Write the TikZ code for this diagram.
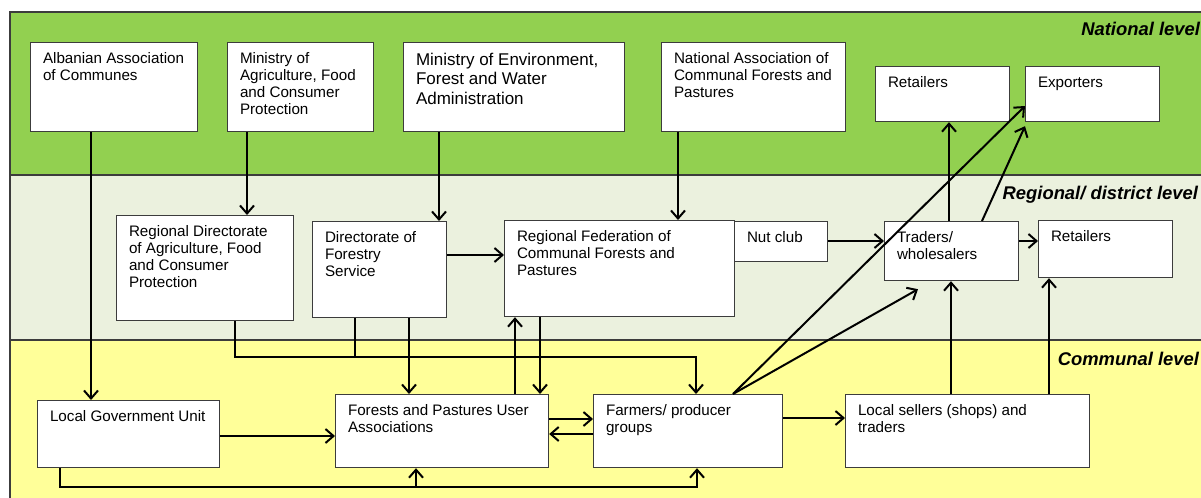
\documentclass[tikz,border=0pt]{standalone}
\usepackage{fontspec}
\setmainfont{Liberation Sans}
\usepackage{tikz}
\usetikzlibrary{arrows.meta}

\definecolor{natbg}{RGB}{146,208,80}
\definecolor{regbg}{RGB}{235,241,222}
\definecolor{combg}{RGB}{255,255,153}
\definecolor{boxline}{RGB}{60,60,60}

\tikzset{
box/.style 2 args={draw=boxline, line width=0.6pt, fill=white, anchor=north west,
inner sep=0pt, minimum width=#1*0.5pt, minimum height=#2*0.5pt},
txt/.style={anchor=north west, align=left, inner sep=0pt,
font=\fontsize{7.6}{8.5}\selectfont, xshift=6.3pt, yshift=-5.2pt},
arr/.style={line width=1pt, -{Straight Barb[length=4pt,width=7pt]}},
lvl/.style={anchor=base east, font=\fontsize{9.2}{11}\selectfont\bfseries\itshape}
}

\begin{document}
\begin{tikzpicture}[x=0.5pt,y=-0.5pt]
\useasboundingbox (0,0) rectangle (1201,498);
\clip (0,0) rectangle (1201,498);

% levels
\fill[natbg] (10,12) rectangle (1210,175);
\fill[regbg] (10,175) rectangle (1210,340);
\fill[combg] (10,340) rectangle (1210,510);
\draw[line width=0.6pt, boxline] (10,12) rectangle (1210,175)
(10,175) rectangle (1210,340) (10,340) rectangle (1210,510);
\node[lvl] (natl) at (1207,35) {National level};
\node[lvl] (regl) at (1205,199) {Regional/ district level};
\node[lvl] (coml) at (1206,365) {Communal level};

% national level
\node[box={167}{89}, label={[txt]north west:{Albanian Association\\of Communes}}] (aac) at (30,42) {};
\node[box={146}{89}, label={[txt]north west:{Ministry of\\Agriculture, Food\\and Consumer\\Protection}}] (mafc) at (227,42) {};
\node[box={221}{89}, label={[txt, font=\fontsize{8.5}{9.8}\selectfont]north west:{Ministry of Environment,\\Forest and Water\\Administration}}] (mefw) at (403,42) {};
\node[box={184}{89}, label={[txt]north west:{National Association of\\Communal Forests and\\Pastures}}] (nacf) at (661,42) {};
\node[box={134}{55}, label={[txt]north west:{Retailers}}] (retn) at (875,66) {};
\node[box={134}{55}, label={[txt]north west:{Exporters}}] (exp) at (1025,66) {};

% regional level
\node[box={177}{105}, label={[txt]north west:{Regional Directorate\\of Agriculture, Food\\and Consumer\\Protection}}] (rdaf) at (116,215) {};
\node[box={134}{96}, label={[txt]north west:{Directorate of\\Forestry\\Service}}] (dfs) at (312,221) {};
\node[box={230}{96}, label={[txt]north west:{Regional Federation of\\Communal Forests and\\Pastures}}] (rfcf) at (504,220) {};
\node[box={93}{40}, label={[txt]north west:{Nut club}}] (nut) at (734,221) {};
\node[box={134}{59}, label={[txt]north west:{Traders/\\wholesalers}}] (tw) at (884,221) {};
\node[box={134}{57}, label={[txt]north west:{Retailers}}] (retr) at (1038,220) {};

% communal level
\node[box={182}{67}, label={[txt]north west:{Local Government Unit}}] (lgu) at (37,400) {};
\node[box={213}{73}, label={[txt]north west:{Forests and Pastures User\\Associations}}] (fpua) at (335,394) {};
\node[box={189}{73}, label={[txt]north west:{Farmers/ producer\\groups}}] (fpg) at (593,394) {};
\node[box={244}{73}, label={[txt]north west:{Local sellers (shops) and\\traders}}] (lst) at (845,394) {};

% connections
\draw[arr] (aac.south -| 91,0) -- (lgu.north -| 91,0);
\draw[arr] (mafc.south -| 247,0) -- (rdaf.north -| 247,0);
\draw[arr] (mefw.south -| 439,0) -- (dfs.north -| 439,0);
\draw[arr] (nacf.south -| 678,0) -- (rfcf.north -| 678,0);
\draw[arr] (dfs.east |- 0,255) -- (rfcf.west |- 0,255);
\draw[arr] (rdaf.south -| 235,0) |- (696,357) -- (fpg.north -| 696,0);
\draw[line width=1pt] (dfs.south -| 355,0) -- (355,357);
\draw[arr] (dfs.south -| 409,0) -- (fpua.north -| 409,0);
\draw[arr] (rfcf.south -| 540,0) -- (fpua.north -| 540,0);
\draw[arr] (fpua.north -| 515,0) -- (rfcf.south -| 515,0);
\draw[arr] (fpua.east |- 0,419) -- (fpg.west |- 0,419);
\draw[arr] (fpg.west |- 0,434) -- (fpua.east |- 0,434);
\draw[arr] (lgu.east |- 0,436) -- (fpua.west |- 0,436);
\draw[arr] (lgu.south -| 60,0) |- (697,487) -- (fpg.south -| 697,0);
\draw[arr] (416,487) -- (fpua.south -| 416,0);
\draw[arr] (fpg.east |- 0,418) -- (lst.west |- 0,418);
\draw[arr] (fpg.north -| 733,0) -- (exp.west |- 0,106);
\draw[arr] (fpg.north -| 733,0) -- ([yshift=-4pt]tw.south -| 918,0);
\draw[arr] (tw.north -| 982,0) -- ([yshift=-2pt]exp.south west);
\draw[arr] (tw.north -| 949,0) -- (retn.south -| 949,0);
\draw[arr] (nut.east |- 0,241) -- (tw.west |- 0,241);
\draw[arr] (tw.east |- 0,241) -- (retr.west |- 0,241);
\draw[arr] (lst.north -| 951,0) -- (tw.south -| 951,0);
\draw[arr] (lst.north -| 1049,0) -- (retr.south -| 1049,0);
\end{tikzpicture}
\end{document}
